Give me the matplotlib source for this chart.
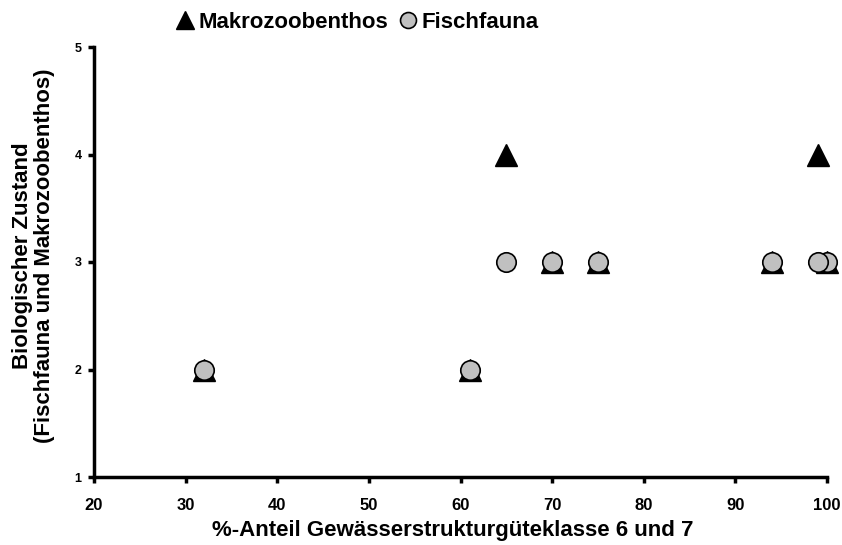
import numpy as np
import matplotlib.pyplot as plt

plt.rcParams['font.family'] = ['Liberation Sans', 'DejaVu Sans']
plt.rcParams['font.weight'] = 'bold'

# %-Anteil Gewaesserstrukturgueteklasse 6 und 7
x_mzb = [32, 61, 65, 70, 75, 94, 99, 100]
y_mzb = [2, 2, 4, 3, 3, 3, 4, 3]
x_fisch = [32, 61, 65, 70, 75, 94, 100, 99]
y_fisch = [2, 2, 3, 3, 3, 3, 3, 3]

fig = plt.figure(figsize=(8.42, 5.45), dpi=100)
ax = fig.add_axes([94/842, 1-477/545, (827-94)/842, (477-47)/545])

ax.plot(x_mzb, y_mzb, ls='none', marker='^', ms=16, color='black',
        label='Makrozoobenthos', zorder=2, clip_on=False)
ax.plot(x_fisch, y_fisch, ls='none', marker='o', ms=14, mfc='#c0c0c0',
        mec='black', mew=1.2, label='Fischfauna', zorder=3, clip_on=False)

ax.set_xlim(20, 100)
ax.set_ylim(1, 5)
ax.set_xticks(np.arange(20, 101, 10))
ax.set_yticks([1, 2, 3, 4, 5])
ax.tick_params(axis='x', labelsize=12, length=4, width=2.5, direction='out', pad=11)
ax.tick_params(axis='y', labelsize=9, length=4, width=2.5, direction='out', pad=5)
for lab in ax.get_xticklabels() + ax.get_yticklabels():
    lab.set_fontweight('bold')

for s in ['top', 'right']:
    ax.spines[s].set_visible(False)
for s in ['left', 'bottom']:
    ax.spines[s].set_linewidth(2.5)

ax.set_xlabel('%-Anteil Gewässerstrukturgüteklasse 6 und 7', fontsize=16,
              fontweight='bold')
ax.set_ylabel('Biologischer Zustand\n(Fischfauna und Makrozoobenthos)', fontsize=16,
              fontweight='bold', linespacing=1.1)
ax.xaxis.set_label_coords(0.49, -0.1)
ax.yaxis.set_label_coords(-0.053, 0.515)

leg = fig.legend(loc='center', bbox_to_anchor=(357/842, 1-22/545), ncol=2,
                 frameon=False, fontsize=16, markerscale=0.82, handlelength=0.8,
                 handletextpad=0.2, columnspacing=0.5, borderpad=0)
for t in leg.get_texts():
    t.set_fontweight('bold')

fig.savefig('out.png', dpi=100)
